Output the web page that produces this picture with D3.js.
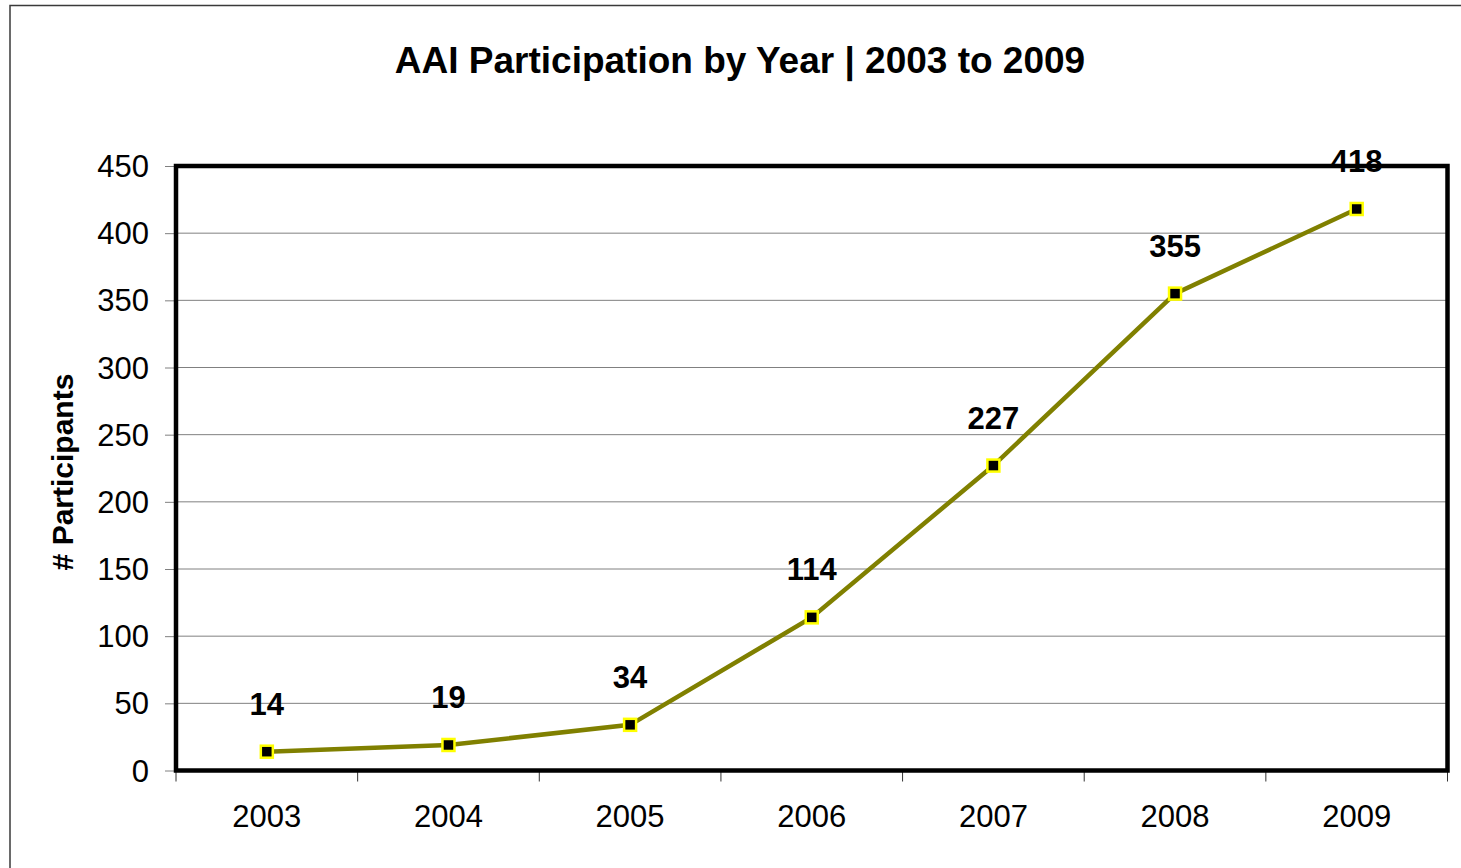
<!DOCTYPE html>
<html>
<head>
  <meta charset="utf-8">
  <script src="https://d3js.org/d3.v7.min.js"></script>
  <style>
    body { margin: 0; background: #fff; }
    .chart { display: block; }
    text { font-family: Arial, "Liberation Sans", sans-serif; }
  </style>
</head>
<body>
  <svg class="chart"></svg>
  <script>
      // Data
      const YEARS        = ["2003", "2004", "2005", "2006", "2007", "2008", "2009"];
      const PARTICIPANTS = [14, 19, 34, 114, 227, 355, 418];
      const Y_TICKS      = [0, 50, 100, 150, 200, 250, 300, 350, 400, 450];

      // Constants
      const WIDTH_ORIG  = 1461;
      const HEIGHT_ORIG = 868;
      const PLOT        = { left: 176, right: 1447.5, top: 166, bottom: 770.5 };

      const TITLE       = "AAI Participation by Year | 2003 to 2009";
      const Y_LABEL     = "# Participants";

      const COLOR_LINE   = "#808000";
      const COLOR_MARKER = "#000000";
      const COLOR_EDGE   = "#ffff00";
      const COLOR_GRID   = "#808080";
      const TICK_FONT    = "31px";
      const LABEL_FONT   = "31px";

      const svg = d3.select(".chart")
          .attr("width", WIDTH_ORIG).attr("height", HEIGHT_ORIG);

      // outer chart border (runs off the right/bottom edge)
      svg.append("rect")
          .attr("x", 10).attr("y", 5.5)
          .attr("width", 1480).attr("height", 900)
          .attr("fill", "#fff")
          .attr("stroke", "#3a3a3a").attr("stroke-width", 1.5);

      const xScale = d3.scaleBand().domain(YEARS).range([PLOT.left, PLOT.right]);
      const yScale = d3.scaleLinear().domain([0, 450]).range([PLOT.bottom, PLOT.top]);

      // gridlines
      svg.append("g")
        .selectAll("line")
        .data(Y_TICKS.slice(1))
        .join("line")
          .attr("x1", PLOT.left).attr("x2", PLOT.right)
          .attr("y1", d => yScale(d)).attr("y2", d => yScale(d))
          .attr("stroke", COLOR_GRID).attr("stroke-width", 1);

      // y axis
      const yAxis = d3.axisLeft(yScale).tickValues(Y_TICKS).tickSize(11).tickPadding(16);
      const gy = svg.append("g")
          .attr("transform", `translate(${PLOT.left}, 0)`)
          .call(yAxis);
      gy.select(".domain").remove();
      gy.selectAll(".tick line").attr("stroke", COLOR_GRID);
      gy.selectAll("text")
          .attr("dy", "0.34em")
          .style("font-family", "Arial, 'Liberation Sans', sans-serif")
          .style("font-size", TICK_FONT).attr("fill", "#000");

      // x axis: ticks sit between categories
      const boundaries = d3.range(YEARS.length + 1).map(i => PLOT.left + i * xScale.step());
      svg.append("g")
        .selectAll("line")
        .data(boundaries)
        .join("line")
          .attr("x1", d => d).attr("x2", d => d)
          .attr("y1", PLOT.bottom).attr("y2", PLOT.bottom + 11)
          .attr("stroke", "#333").attr("stroke-width", 1);

      const xAxis = d3.axisBottom(xScale).tickSize(0).tickPadding(34);
      const gx = svg.append("g")
          .attr("transform", `translate(0, ${PLOT.bottom})`)
          .call(xAxis);
      gx.select(".domain").remove();
      gx.selectAll("text")
          .style("font-family", "Arial, 'Liberation Sans', sans-serif")
          .style("font-size", TICK_FONT).attr("fill", "#000");

      // plot frame
      svg.append("rect")
          .attr("x", PLOT.left).attr("y", PLOT.top)
          .attr("width", PLOT.right - PLOT.left).attr("height", PLOT.bottom - PLOT.top)
          .attr("fill", "none").attr("stroke", "#000").attr("stroke-width", 4.5);

      const points = YEARS.map((y, i) => ({ year: y, value: PARTICIPANTS[i] }));
      const xc = d => xScale(d.year) + xScale.bandwidth() / 2;

      // line
      const line = d3.line().x(xc).y(d => yScale(d.value));
      svg.append("path")
          .datum(points)
          .attr("d", line)
          .attr("fill", "none")
          .attr("stroke", COLOR_LINE).attr("stroke-width", 4.5);

      // markers
      const MS = 12;
      svg.append("g")
        .selectAll("rect")
        .data(points)
        .join("rect")
          .attr("x", d => xc(d) - MS / 2).attr("y", d => yScale(d.value) - MS / 2)
          .attr("width", MS).attr("height", MS)
          .attr("fill", COLOR_MARKER)
          .attr("stroke", COLOR_EDGE).attr("stroke-width", 2.5);

      // data labels
      svg.append("g")
        .selectAll("text")
        .data(points)
        .join("text")
          .attr("x", xc).attr("y", d => yScale(d.value) - 37)
          .attr("text-anchor", "middle")
          .style("font-size", LABEL_FONT).style("font-weight", "bold")
          .text(d => d.value);

      // title
      svg.append("text")
          .attr("x", 740).attr("y", 73)
          .attr("text-anchor", "middle")
          .style("font-size", "37px").style("font-weight", "bold")
          .text(TITLE);

      // y axis label
      svg.append("text")
          .attr("transform", "translate(73, 472) rotate(-90)")
          .attr("text-anchor", "middle")
          .style("font-size", "30px").style("font-weight", "bold")
          .text(Y_LABEL);
  </script>
</body>
</html>
